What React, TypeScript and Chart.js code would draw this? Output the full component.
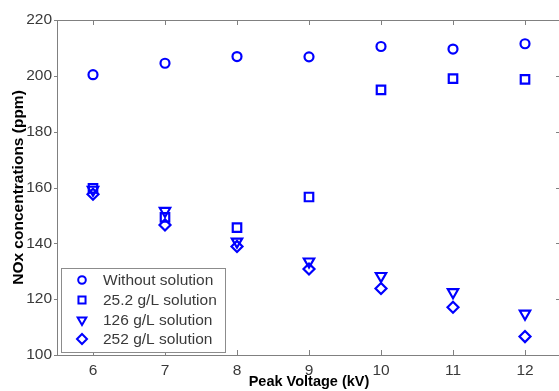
import React, { useEffect, useRef } from "react";
import { Chart, registerables } from "chart.js";
import { drawPoint } from "chart.js/helpers";

Chart.register(...registerables);

// Peak voltage (kV)
const voltages = [6, 7, 8, 9, 10, 11, 12];
// NOx concentrations (ppm) for each solution
const withoutSolution = [200.4, 204.5, 206.9, 206.8, 210.5, 209.6, 211.5];
const solution25 = [159.7, 149.3, 145.6, 156.6, 195.0, 199.0, 198.7];
const solution126 = [159.2, 151.6, 140.6, 133.5, 128.3, 122.5, 114.8];
const solution252 = [157.6, 146.6, 138.9, 130.8, 123.8, 117.1, 106.6];

const seriesLabels = [
  "Without solution",
  "25.2 g/L solution",
  "126 g/L solution",
  "252 g/L solution",
];
const xTicks = [6, 7, 8, 9, 10, 11, 12];
const yTicks = [100, 120, 140, 160, 180, 200, 220];

const BLUE = "#0000ff";
const AXIS = "#808080";
const TEXT = "#3a3a3a";
const FONT = "'Liberation Sans', Arial, sans-serif";

const markerStyles = [
  { pointStyle: "circle", rotation: 0, radius: 4.5, legendRadius: 3.8 },
  { pointStyle: "rect", rotation: 0, radius: 6, legendRadius: 5 },
  { pointStyle: "triangle", rotation: 180, radius: 6, legendRadius: 5 },
  { pointStyle: "rectRot", rotation: 0, radius: 5.5, legendRadius: 5 },
];

// Box around the plot, tick marks on all four sides, and the legend.
const framePlugin = {
  id: "frame",
  afterDraw(chart: any) {
    const { ctx, chartArea, scales } = chart;
    const { left, right, top, bottom } = chartArea;
    ctx.save();
    ctx.strokeStyle = AXIS;
    ctx.lineWidth = 1;
    ctx.strokeRect(left + 0.5, top + 0.5, right - left - 1, bottom - top);
    const len = 5;
    ctx.beginPath();
    for (const v of xTicks) {
      const x = Math.round(scales.x.getPixelForValue(v)) + 0.5;
      ctx.moveTo(x, top);
      ctx.lineTo(x, top + len);
      ctx.moveTo(x, bottom);
      ctx.lineTo(x, bottom - len);
    }
    for (const v of yTicks) {
      const y = Math.round(scales.y.getPixelForValue(v)) + 0.5;
      ctx.moveTo(left, y);
      ctx.lineTo(left - 3, y);
      ctx.moveTo(right, y);
      ctx.lineTo(right - len, y);
    }
    ctx.stroke();

    // legend
    const bx = 61, by = 268, bw = 164, bh = 84;
    ctx.fillStyle = "#ffffff";
    ctx.fillRect(bx, by, bw, bh);
    ctx.strokeStyle = "#8c8c8c";
    ctx.strokeRect(bx + 0.5, by + 0.5, bw, bh);
    const rowY = [280, 300, 320, 339];
    ctx.font = `15.5px ${FONT}`;
    ctx.textBaseline = "middle";
    ctx.textAlign = "left";
    seriesLabels.forEach((label, i) => {
      const m = markerStyles[i];
      ctx.strokeStyle = BLUE;
      ctx.fillStyle = "rgba(0,0,0,0)";
      ctx.lineWidth = 2;
      drawPoint(ctx, { pointStyle: m.pointStyle, rotation: m.rotation, radius: m.legendRadius, borderWidth: 2 } as any, 82, rowY[i]);
      ctx.fillStyle = TEXT;
      ctx.fillText(label, 103, rowY[i] + 1);
    });
    ctx.restore();
  },
};

export default function App() {
  const canvasRef = useRef<HTMLCanvasElement | null>(null);

  useEffect(() => {
    document.body.style.margin = "0";
    const seriesValues = [withoutSolution, solution25, solution126, solution252];
    const chart = new Chart(canvasRef.current as HTMLCanvasElement, {
      type: "scatter",
      data: {
        datasets: seriesValues.map((vals, i) => ({
          label: seriesLabels[i],
          data: voltages.map((v, j) => ({ x: v, y: vals[j] })),
          pointStyle: markerStyles[i].pointStyle as any,
          rotation: markerStyles[i].rotation,
          pointRadius: markerStyles[i].radius,
          pointBorderWidth: 2.2,
          borderColor: BLUE,
          backgroundColor: "rgba(0,0,0,0)",
          showLine: false,
        })),
      },
      options: {
        responsive: false,
        animation: false,
        devicePixelRatio: 1,
        layout: { autoPadding: false, padding: { top: 20, right: 2, left: 0, bottom: 0 } },
        plugins: {
          legend: { display: false },
          tooltip: { enabled: false },
        },
        scales: {
          x: {
            type: "linear",
            min: 5.5,
            max: 12.5,
            afterFit: (s: any) => {
              s.height = 36;
              s.paddingLeft = 0;
              s.paddingRight = 0;
            },
            afterBuildTicks: (s: any) => { s.ticks = xTicks.map((v) => ({ value: v })); },
            grid: { display: false, drawTicks: false },
            border: { display: false },
            ticks: { color: TEXT, font: { family: FONT, size: 15.5 }, padding: 6 },
            title: {
              display: true,
              text: "Peak Voltage (kV)",
              color: "#000",
              font: { family: FONT, size: 14.5, weight: "bold" },
              padding: { top: 0, bottom: 0 },
            },
          },
          y: {
            type: "linear",
            min: 100,
            max: 220,
            afterFit: (s: any) => {
              s.width = 57;
              s.paddingTop = 0;
              s.paddingBottom = 0;
            },
            afterBuildTicks: (s: any) => { s.ticks = yTicks.map((v) => ({ value: v })); },
            grid: { display: false, drawTicks: false },
            border: { display: false },
            ticks: { color: TEXT, font: { family: FONT, size: 15.5 }, padding: 5 },
            title: {
              display: true,
              text: "NOx concentrations (ppm)",
              color: "#000",
              font: { family: FONT, size: 15.5, weight: "bold" },
              padding: { top: 9, bottom: 0 },
            },
          },
        },
      },
      plugins: [framePlugin],
    });
    return () => chart.destroy();
  }, []);

  return (
    <div style={{ width: 559, height: 391, overflow: "hidden", background: "#fff" }}>
      <canvas ref={canvasRef} width={563} height={391} style={{ display: "block" }} />
    </div>
  );
}
